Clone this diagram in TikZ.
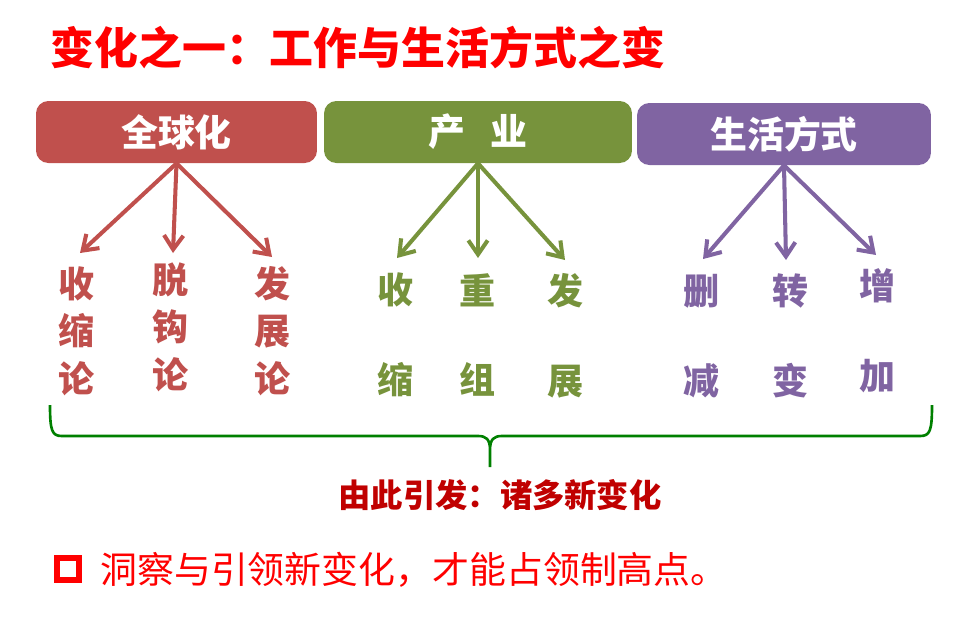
\documentclass[tikz,border=0pt]{standalone}
\usepackage{fontspec}
\setmainfont{Noto Sans CJK SC}
\usetikzlibrary{arrows.meta}
\definecolor{globred}{HTML}{C0504D}
\definecolor{indgreen}{HTML}{77933C}
\definecolor{lifepurple}{HTML}{8064A2}
\definecolor{causered}{HTML}{C00000}
\definecolor{bracegreen}{HTML}{008000}
\begin{document}
\begin{tikzpicture}[x=0.02cm,y=-0.02cm,
    head/.style={rounded corners=7pt, text=white, inner sep=0pt, minimum height=1.24cm,
      font=\fontsize{21}{21}\selectfont\bfseries},
    word/.style={inner sep=0pt, align=center, font=\fontsize{20.5}{27}\selectfont\bfseries},
    pair/.style={word, font=\fontsize{20.5}{51}\selectfont\bfseries},
    branch/.style={line width=2.3pt, -{Straight Barb[length=8pt,width=11pt]}}]
      \useasboundingbox (0,0) rectangle (966,623);
      \node[anchor=west, text=red, inner sep=0pt, font=\fontsize{25}{25}\selectfont\bfseries] (title) at (50,48) {变化之一：工作与生活方式之变};
      % three headings
      \node[head, fill=globred, minimum width=5.62cm] (glob) at (176.5,132) {全球化};
      \node[head, fill=indgreen, minimum width=6.16cm] (ind) at (478,132) {产\hspace{0.7em}业};
      \node[head, fill=lifepurple, minimum width=5.88cm] (life) at (784,134) {生活方式};
      % globalisation
      \node[word, text=globred] (shrink) at (77,331) {收\\缩\\论};
      \node[word, text=globred] (decouple) at (171,327) {脱\\钩\\论};
      \node[word, text=globred] (develop) at (273,331) {发\\展\\论};
      \coordinate (g1) at (80,253);
      \coordinate (g2) at (173,253);
      \coordinate (g3) at (272,257);
      \draw[branch, globred] (glob.south) -- (g1);
      \draw[branch, globred] (glob.south) -- (g2);
      \draw[branch, globred] (glob.south) -- (g3);
      % industry
      \node[pair, text=indgreen] (contract) at (396,335) {收\\缩};
      \node[pair, text=indgreen] (regroup) at (478,335) {重\\组};
      \node[pair, text=indgreen] (expand) at (565,336) {发\\展};
      \coordinate (i1) at (397,258);
      \coordinate (i2) at (478,258);
      \coordinate (i3) at (565,260);
      \draw[branch, indgreen] (ind.south) -- (i1);
      \draw[branch, indgreen] (ind.south) -- (i2);
      \draw[branch, indgreen] (ind.south) -- (i3);
      % way of life
      \node[pair, text=lifepurple] (cut) at (701,336) {删\\减};
      \node[pair, text=lifepurple] (turn) at (790,336) {转\\变};
      \node[pair, text=lifepurple] (grow) at (877,331) {增\\加};
      \coordinate (l1) at (703,259);
      \coordinate (l2) at (786,260);
      \coordinate (l3) at (876,255);
      \draw[branch, lifepurple] (life.south) -- (l1);
      \draw[branch, lifepurple] (life.south) -- (l2);
      \draw[branch, lifepurple] (life.south) -- (l3);
      % brace
      \draw[bracegreen, line width=1.5pt] (50,405) .. controls (50,431) and (52,436) .. (62,436) -- (478,436)
        .. controls (486,436) and (490,439) .. (490,450) -- (490,467)
        (490,450) .. controls (490,439) and (494,436) .. (502,436) -- (920,436)
        .. controls (930,436) and (932,431) .. (932,405);
      \node[text=causered, inner sep=0pt, font=\fontsize{18.4}{18.4}\selectfont\bfseries] (cause) at (500,495) {由此引发：诸多新变化};
      % bottom line
      \node[draw=red, fill=white, line width=2.9pt, minimum size=0.44cm, inner sep=0pt] (bullet) at (68,569) {};
      \node[anchor=west, text=red, inner sep=0pt, font=\fontsize{21}{21}\selectfont] (insight) at (100,570) {洞察与引领新变化，才能占领制高点。};
\end{tikzpicture}
\end{document}
